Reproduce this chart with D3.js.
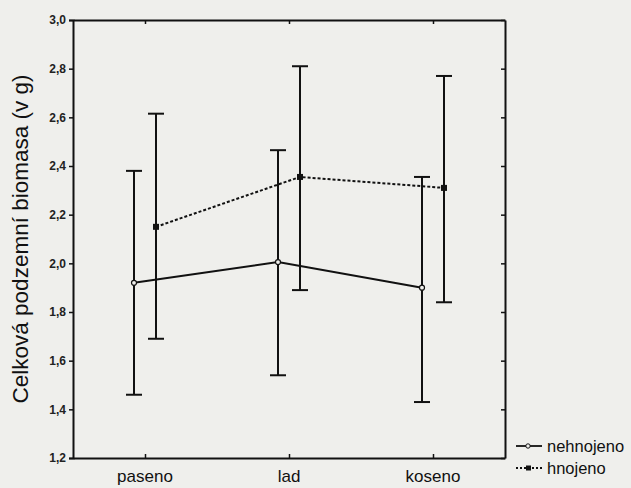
<!DOCTYPE html>
<html>
<head>
<meta charset="utf-8">
<script src="https://cdn.jsdelivr.net/npm/d3@7"></script>
<style>
  body { margin: 0; background: #efefec; }
  svg { display: block; }
</style>
</head>
<body>
<svg id="chart" width="631" height="488"></svg>
<script>
var categories = ["paseno", "lad", "koseno"];
var seriesNames = ["nehnojeno", "hnojeno"];
var meanNehnojeno = [1.92, 2.005, 1.90];
var lowNehnojeno  = [1.46, 1.54, 1.43];
var highNehnojeno = [2.38, 2.465, 2.355];
var meanHnojeno = [2.15, 2.355, 2.31];
var lowHnojeno  = [1.69, 1.89, 1.84];
var highHnojeno = [2.615, 2.81, 2.77];
var yTicks = [1.2, 1.4, 1.6, 1.8, 2.0, 2.2, 2.4, 2.6, 2.8, 3.0];

var margin = {top: 20, right: 126, bottom: 30, left: 73},
    width = 631 - margin.left - margin.right,
    height = 488 - margin.top - margin.bottom;

var svg = d3.select("#chart")
  .append("g")
  .attr("transform", "translate(" + margin.left + "," + margin.top + ")");

var xScale = d3.scalePoint().domain(categories).range([0, width]).padding(0.5);
var yScale = d3.scaleLinear().domain([1.2, 3.0]).range([height, 0]);
var fmt = function(d) { return d3.format(".1f")(d).replace(".", ","); };

var series = [
  {name: seriesNames[0], mean: meanNehnojeno, low: lowNehnojeno, high: highNehnojeno, off: -11, dash: null},
  {name: seriesNames[1], mean: meanHnojeno, low: lowHnojeno, high: highHnojeno, off: 11, dash: "3,2"}
];

// axes
var left = svg.append("g").call(d3.axisLeft(yScale).tickValues(yTicks).tickFormat(fmt).tickSize(4).tickPadding(3));
var right = svg.append("g").attr("transform", "translate(" + width + ",0)")
  .call(d3.axisLeft(yScale).tickValues(yTicks).tickFormat("").tickSize(4).tickSizeOuter(0));
var bottom = svg.append("g").attr("transform", "translate(0," + height + ")")
  .call(d3.axisTop(xScale).tickFormat("").tickSize(4).tickSizeOuter(0));
var top = svg.append("g")
  .call(d3.axisBottom(xScale).tickFormat("").tickSize(4).tickSizeOuter(0));

svg.selectAll(".domain").attr("stroke", "#111").attr("stroke-width", 2);
svg.selectAll(".tick line").attr("stroke", "#111").attr("stroke-width", 1.5);
left.selectAll(".tick text")
  .attr("font-family", "Liberation Sans, Arial, sans-serif")
  .attr("font-size", 12).attr("font-weight", "bold").attr("fill", "#222");

// category labels
svg.selectAll(".cat")
  .data(categories).enter()
  .append("text")
  .attr("x", function(d) { return xScale(d); })
  .attr("y", height + 24)
  .attr("text-anchor", "middle")
  .attr("font-family", "Liberation Sans, Arial, sans-serif")
  .attr("font-size", 17)
  .attr("fill", "#111")
  .text(function(d) { return d; });

// y title
svg.append("text")
  .attr("transform", "translate(" + (-45) + "," + (height / 2) + ") rotate(-90)")
  .attr("text-anchor", "middle")
  .attr("font-family", "Liberation Sans, Arial, sans-serif")
  .attr("font-size", 22.5)
  .attr("fill", "#111")
  .text("Celková podzemní biomasa (v g)");

// error bars
series.forEach(function(s) {
  var g = svg.append("g");
  categories.forEach(function(c, i) {
    var x = xScale(c) + s.off;
    g.append("line").attr("x1", x).attr("x2", x)
      .attr("y1", yScale(s.low[i])).attr("y2", yScale(s.high[i]))
      .attr("stroke", "#111").attr("stroke-width", 2);
    [s.low[i], s.high[i]].forEach(function(v) {
      g.append("line").attr("x1", x - 8).attr("x2", x + 8)
        .attr("y1", yScale(v)).attr("y2", yScale(v))
        .attr("stroke", "#111").attr("stroke-width", 2);
    });
  });
});

// mean lines
series.forEach(function(s) {
  var line = d3.line()
    .x(function(d, i) { return xScale(categories[i]) + s.off; })
    .y(function(d) { return yScale(d); });
  svg.append("path")
    .datum(s.mean)
    .attr("d", line)
    .attr("fill", "none")
    .attr("stroke", "#111")
    .attr("stroke-width", 2)
    .attr("stroke-dasharray", s.dash);
});

// markers
svg.selectAll(".m0")
  .data(meanNehnojeno).enter()
  .append("circle")
  .attr("cx", function(d, i) { return xScale(categories[i]) + series[0].off; })
  .attr("cy", function(d) { return yScale(d); })
  .attr("r", 2.5)
  .attr("fill", "#efefec").attr("stroke", "#111").attr("stroke-width", 1.2);
svg.selectAll(".m1")
  .data(meanHnojeno).enter()
  .append("rect")
  .attr("x", function(d, i) { return xScale(categories[i]) + series[1].off - 3; })
  .attr("y", function(d) { return yScale(d) - 3; })
  .attr("width", 6).attr("height", 6)
  .attr("fill", "#111");

// legend
var legend = svg.append("g").attr("transform", "translate(" + (width + 11) + "," + (height - 12) + ")");
series.forEach(function(s, i) {
  var row = legend.append("g").attr("transform", "translate(0," + (i * 22) + ")");
  row.append("line").attr("x1", 0).attr("x2", 26).attr("y1", 0).attr("y2", 0)
    .attr("stroke", "#111").attr("stroke-width", 1.8).attr("stroke-dasharray", s.dash ? "2,2" : null);
  if (i == 0) {
    row.append("circle").attr("cx", 12).attr("cy", 0).attr("r", 2.2)
      .attr("fill", "#efefec").attr("stroke", "#111").attr("stroke-width", 1);
  } else {
    row.append("rect").attr("x", 10).attr("y", -2.5).attr("width", 5).attr("height", 5).attr("fill", "#111");
  }
  row.append("text")
    .attr("x", 31).attr("y", 5.5)
    .attr("font-family", "Liberation Sans, Arial, sans-serif")
    .attr("font-size", 16.5)
    .attr("fill", "#111")
    .text(s.name);
});
</script>
</body>
</html>
